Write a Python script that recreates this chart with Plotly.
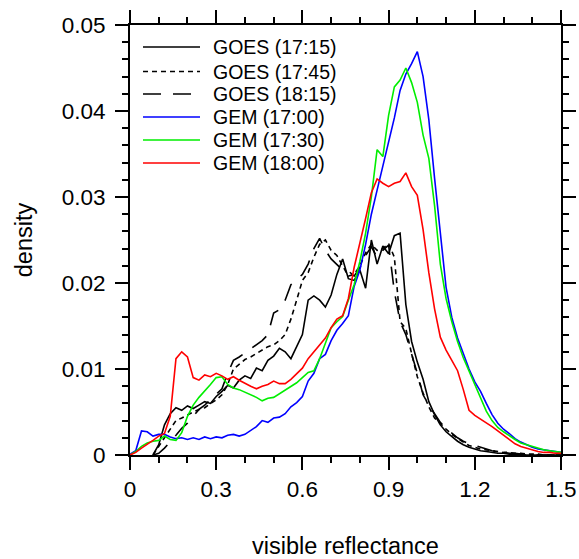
import numpy as np
import plotly.graph_objects as go

# x grid of visible reflectance (bin centres)
reflectance = [round(i * 0.02, 2) for i in range(76)]

gem_1700 = [0.0001, 0.0005, 0.0028, 0.0027, 0.0022, 0.0024, 0.0024, 0.0021, 0.0019, 0.0020,
            0.0018, 0.0020, 0.0018, 0.0021, 0.0019, 0.0021, 0.0020, 0.0023, 0.0024, 0.0022,
            0.0024, 0.0028, 0.0033, 0.0040, 0.0038, 0.0043, 0.0044, 0.0048, 0.0056, 0.0061,
            0.0068, 0.0086, 0.0095, 0.0112, 0.0117, 0.0133, 0.0145, 0.0153, 0.0162, 0.0196,
            0.0215, 0.0245, 0.0280, 0.0308, 0.0336, 0.0362, 0.0392, 0.0424, 0.0443, 0.0455,
            0.0469, 0.0440, 0.0390, 0.0322, 0.0255, 0.0195, 0.0160, 0.0136, 0.0118, 0.0100,
            0.0085, 0.0074, 0.0060, 0.0047, 0.0037, 0.0030, 0.0025, 0.0019, 0.0015, 0.0012,
            0.0009, 0.0007, 0.0006, 0.0005, 0.0004, 0.0003]

gem_1730 = [0.0000, 0.0004, 0.0010, 0.0014, 0.0016, 0.0017, 0.0022, 0.0018, 0.0017, 0.0026,
            0.0045, 0.0058, 0.0067, 0.0074, 0.0082, 0.0090, 0.0091, 0.0082, 0.0078, 0.0076,
            0.0073, 0.0070, 0.0067, 0.0063, 0.0066, 0.0067, 0.0071, 0.0075, 0.0079, 0.0084,
            0.0090, 0.0096, 0.0098, 0.0112, 0.0130, 0.0148, 0.0155, 0.0161, 0.0180, 0.0198,
            0.0225, 0.0258, 0.0300, 0.0355, 0.0347, 0.0395, 0.0428, 0.0436, 0.0450, 0.0433,
            0.0410, 0.0372, 0.0345, 0.0290, 0.0222, 0.0182, 0.0155, 0.0132, 0.0113, 0.0097,
            0.0082, 0.0066, 0.0051, 0.0040, 0.0032, 0.0027, 0.0022, 0.0018, 0.0014, 0.0012,
            0.0010, 0.0008, 0.0006, 0.0005, 0.0004, 0.0003]

gem_1800 = [0.0000, 0.0003, 0.0008, 0.0012, 0.0017, 0.0022, 0.0025, 0.0045, 0.0112, 0.0120,
            0.0114, 0.0090, 0.0087, 0.0093, 0.0091, 0.0095, 0.0092, 0.0088, 0.0091, 0.0087,
            0.0083, 0.0080, 0.0077, 0.0080, 0.0082, 0.0086, 0.0083, 0.0083, 0.0088, 0.0094,
            0.0101, 0.0112, 0.0120, 0.0128, 0.0136, 0.0148, 0.0158, 0.0162, 0.0182, 0.0218,
            0.0245, 0.0275, 0.0305, 0.0321, 0.0316, 0.0312, 0.0316, 0.0318, 0.0328, 0.0312,
            0.0302, 0.0262, 0.0212, 0.0170, 0.0137, 0.0122, 0.0110, 0.0098, 0.0076, 0.0052,
            0.0046, 0.0042, 0.0038, 0.0033, 0.0028, 0.0023, 0.0018, 0.0013, 0.0010, 0.0008,
            0.0006, 0.0004, 0.0003, 0.0003, 0.0002, 0.0002]

goes_1715 = [None, None, None, None, 0.0000, 0.0012, 0.0035, 0.0048, 0.0055, 0.0052,
             0.0057, 0.0054, 0.0058, 0.0062, 0.0060, 0.0068, 0.0074, 0.0081, 0.0078, 0.0087,
             0.0092, 0.0089, 0.0101, 0.0098, 0.0110, 0.0115, 0.0124, 0.0120, 0.0112, 0.0126,
             0.0140, 0.0180, 0.0185, 0.0180, 0.0172, 0.0186, 0.0210, 0.0228, 0.0205, 0.0203,
             0.0215, 0.0194, 0.0250, 0.0222, 0.0243, 0.0234, 0.0255, 0.0258, 0.0175, 0.0132,
             0.0108, 0.0088, 0.0062, 0.0047, 0.0035, 0.0027, 0.0021, 0.0016, 0.0012, 0.0009,
             0.0007, 0.0005, 0.0004, 0.0003, 0.0002, 0.0002, 0.0001, 0.0001, 0.0001, 0.0000,
             0.0000, 0.0000, 0.0000, 0.0000, 0.0000, 0.0000]

goes_1745 = [None, None, None, None, 0.0000, 0.0010, 0.0020, 0.0030, 0.0040, 0.0043,
             0.0047, 0.0050, 0.0053, 0.0055, 0.0060, 0.0064, 0.0070, 0.0082, 0.0100, 0.0105,
             0.0111, 0.0114, 0.0118, 0.0122, 0.0126, 0.0128, 0.0133, 0.0140, 0.0158, 0.0180,
             0.0203, 0.0212, 0.0230, 0.0245, 0.0250, 0.0238, 0.0232, 0.0220, 0.0208, 0.0210,
             0.0220, 0.0235, 0.0245, 0.0238, 0.0240, 0.0246, 0.0230, 0.0155, 0.0147, 0.0118,
             0.0091, 0.0072, 0.0056, 0.0043, 0.0036, 0.0030, 0.0024, 0.0019, 0.0015, 0.0011,
             0.0009, 0.0007, 0.0006, 0.0005, 0.0004, 0.0003, 0.0003, 0.0002, 0.0002, 0.0001,
             0.0001, 0.0001, 0.0000, 0.0000, 0.0000, 0.0000]

goes_1815 = [None, None, None, None, 0.0000, 0.0002, 0.0008, 0.0015, 0.0023, 0.0031,
             0.0037, 0.0045, 0.0053, 0.0058, 0.0064, 0.0070, 0.0077, 0.0095, 0.0110, 0.0114,
             0.0119, 0.0124, 0.0128, 0.0133, 0.0140, 0.0165, 0.0169, 0.0180, 0.0198, 0.0204,
             0.0210, 0.0222, 0.0240, 0.0252, 0.0238, 0.0228, 0.0222, 0.0215, 0.0214, 0.0208,
             0.0218, 0.0232, 0.0242, 0.0230, 0.0238, 0.0244, 0.0190, 0.0155, 0.0140, 0.0118,
             0.0095, 0.0070, 0.0058, 0.0048, 0.0038, 0.0031, 0.0025, 0.0020, 0.0016, 0.0013,
             0.0011, 0.0009, 0.0007, 0.0005, 0.0004, 0.0003, 0.0002, 0.0002, 0.0001, 0.0001,
             0.0001, 0.0000, 0.0000, 0.0000, 0.0000, 0.0000]

series_names = ["GOES (17:15)", "GOES (17:45)", "GOES (18:15)",
                "GEM (17:00)", "GEM (17:30)", "GEM (18:00)"]
series_values = [goes_1715, goes_1745, goes_1815, gem_1700, gem_1730, gem_1800]
series_colors = ["#000000", "#000000", "#000000", "#0000ff", "#00ee00", "#ff0000"]
series_dash = ["solid", "5px,4px", "18px,12px", "solid", "solid", "solid"]

x_ticks = [0, 0.3, 0.6, 0.9, 1.2, 1.5]
x_ticklabels = ["0", "0.3", "0.6", "0.9", "1.2", "1.5"]
y_ticks = [0, 0.01, 0.02, 0.03, 0.04, 0.05]
y_ticklabels = ["0", "0.01", "0.02", "0.03", "0.04", "0.05"]

FONT = "Liberation Sans, Arial, Helvetica, sans-serif"

fig = go.Figure()
for name, vals, col, dsh in zip(series_names, series_values, series_colors, series_dash):
    fig.add_trace(go.Scatter(x=reflectance, y=vals, mode="lines", name=name,
                             line=dict(color=col, width=1.6, dash=dsh),
                             connectgaps=False, showlegend=False))

# custom legend (samples + labels) in paper coordinates
L, T, W, H = 130, 25, 431, 430
rows_py = [47, 71.5, 94, 117, 140, 163]
for name, col, dsh, py in zip(series_names, series_colors, series_dash, rows_py):
    yp = (455 - py) / H
    fig.add_shape(type="line", xref="paper", yref="paper",
                  x0=(143 - L) / W, x1=(200 - L) / W, y0=yp, y1=yp,
                  line=dict(color=col, width=1.6, dash=dsh))
    fig.add_annotation(xref="paper", yref="paper", x=(211 - L) / W, y=yp,
                       text=name, showarrow=False, xanchor="left", yanchor="middle",
                       font=dict(family=FONT, size=19.5, color="black"))

axis_common = dict(showline=True, linecolor="black", linewidth=2, mirror="allticks",
                   ticks="outside", ticklen=13, tickwidth=2, tickcolor="black",
                   showgrid=False, zeroline=False, automargin=False,
                   tickfont=dict(family=FONT, size=22.5, color="black"))

fig.update_xaxes(range=[0, 1.5], tickvals=x_ticks, ticktext=x_ticklabels,
                 minor=dict(dtick=0.1, tick0=0, ticks="outside", ticklen=6, tickwidth=2,
                            tickcolor="black", showgrid=False),
                 title=dict(text="visible reflectance", standoff=38,
                            font=dict(family=FONT, size=23.5, color="black")),
                 **axis_common)
fig.update_yaxes(range=[0, 0.05], tickvals=y_ticks, ticktext=y_ticklabels,
                 ticklabelstandoff=5,
                 minor=dict(dtick=0.002, tick0=0, ticks="outside", ticklen=6, tickwidth=2,
                            tickcolor="black", showgrid=False),
                 title=dict(text="density", standoff=22,
                            font=dict(family=FONT, size=23.5, color="black")),
                 **axis_common)

fig.update_layout(width=579, height=559,
                  margin=dict(l=L, r=579 - 561, t=T, b=559 - 455),
                  plot_bgcolor="white", paper_bgcolor="white",
                  font=dict(family=FONT, color="black"))

fig.write_html("out.html")
